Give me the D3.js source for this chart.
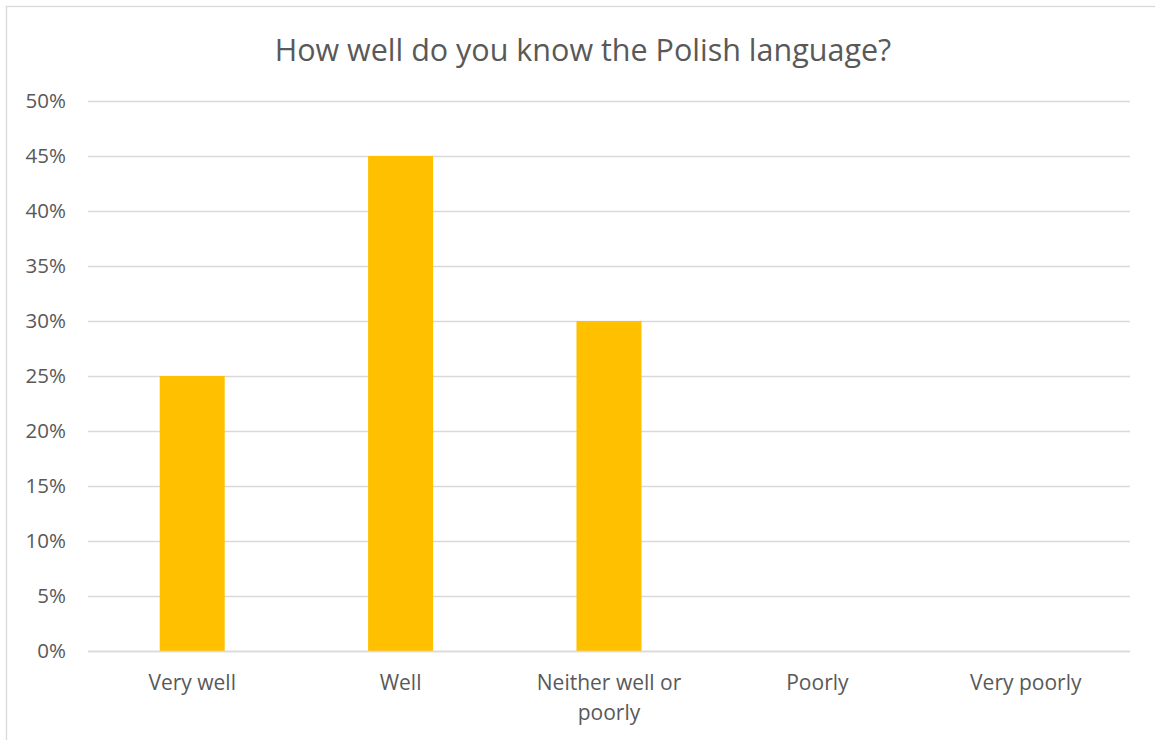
<!DOCTYPE html>
<html>
<head>
<meta charset="utf-8">
<script src="https://cdn.jsdelivr.net/npm/d3@7"></script>
<style>
  html, body { margin: 0; padding: 0; background: #fff; }
  svg { display: block; }
</style>
</head>
<body>
<svg id="chart" width="1155" height="740"></svg>
<script>
// Survey responses: share of respondents per self-assessed level
const categories = ["Very well", "Well", "Neither well or poorly", "Poorly", "Very poorly"];
const shares = [0.25, 0.45, 0.30, 0, 0];
const yTicks = [0, 0.05, 0.10, 0.15, 0.20, 0.25, 0.30, 0.35, 0.40, 0.45, 0.50];
// Wrapped x-axis labels
const categoryLines = [["Very well"], ["Well"], ["Neither well or", "poorly"], ["Poorly"], ["Very poorly"]];
const title = "How well do you know the Polish language?";

const svg = d3.select("#chart");
const font = "'Open Sans', sans-serif";
const textColor = "#595959";

const margin = { left: 88, right: 1130, top: 101, bottom: 651 };

// Chart frame
svg.append("rect")
  .attr("x", 6.5).attr("y", 6.5)
  .attr("width", 1170).attr("height", 770)
  .attr("fill", "#fff")
  .attr("stroke", "#d9d9d9").attr("stroke-width", 1.3);

const x = d3.scaleBand()
  .domain(categories)
  .range([margin.left, margin.right])
  .paddingInner(0.688)
  .paddingOuter(0.344);

const y = d3.scaleLinear()
  .domain([0, 0.5])
  .range([margin.bottom, margin.top]);

// Gridlines
svg.append("g")
  .selectAll("line")
  .data(yTicks)
  .join("line")
  .attr("x1", margin.left).attr("x2", margin.right)
  .attr("y1", d => Math.round(y(d)) + 0.5).attr("y2", d => Math.round(y(d)) + 0.5)
  .attr("stroke", "#d9d9d9").attr("stroke-width", 1.3);

// Y tick labels
svg.append("g")
  .selectAll("text")
  .data(yTicks)
  .join("text")
  .attr("x", 66)
  .attr("y", d => y(d))
  .attr("dy", "0.35em")
  .attr("text-anchor", "end")
  .attr("font-family", font)
  .attr("font-size", 20.5)
  .attr("fill", textColor)
  .text(d => d3.format(".0%")(d));

// Bars
svg.append("g")
  .selectAll("rect")
  .data(categories.map((c, i) => ({ c, v: shares[i] })))
  .join("rect")
  .attr("x", d => x(d.c))
  .attr("y", d => y(d.v))
  .attr("width", x.bandwidth())
  .attr("height", d => y(0) - y(d.v))
  .attr("fill", "#ffc000");

// Redraw baseline above bars
svg.append("line")
  .attr("x1", margin.left).attr("x2", margin.right)
  .attr("y1", Math.round(y(0)) + 0.5).attr("y2", Math.round(y(0)) + 0.5)
  .attr("stroke", "#d9d9d9").attr("stroke-width", 1.3);

// X category labels
const xl = svg.append("g")
  .selectAll("text")
  .data(categories.map((c, i) => ({ c, lines: categoryLines[i] })))
  .join("text")
  .attr("x", d => x(d.c) + x.bandwidth() / 2)
  .attr("y", 690)
  .attr("text-anchor", "middle")
  .attr("font-family", font)
  .attr("font-size", 21)
  .attr("fill", textColor);
xl.selectAll("tspan")
  .data(d => d.lines.map(l => ({ l, cx: x(d.c) + x.bandwidth() / 2 })))
  .join("tspan")
  .attr("x", d => d.cx)
  .attr("dy", (d, i) => i === 0 ? 0 : 30)
  .text(d => d.l);

// Title
svg.append("text")
  .attr("x", 583)
  .attr("y", 61)
  .attr("text-anchor", "middle")
  .attr("font-family", font)
  .attr("font-size", 30.5)
  .attr("fill", textColor)
  .text(title);
</script>
</body>
</html>
